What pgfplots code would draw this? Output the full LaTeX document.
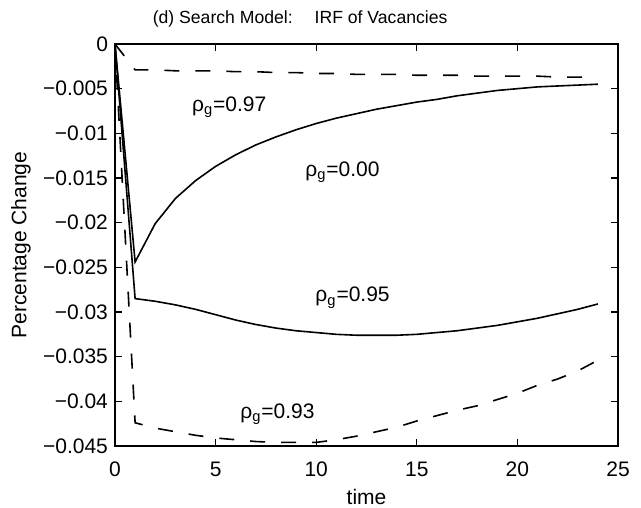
\documentclass[border=0pt]{standalone}
\usepackage{fontspec}
\setmainfont{Liberation Sans}
\usepackage{pgfplots}
\pgfplotsset{compat=1.18}
\begin{document}
\begin{tikzpicture}
\begin{axis}[
    name=ax,
    scale only axis,
    width=251.5pt, height=201pt,
    xmin=0, xmax=25, ymin=-0.045, ymax=0,
    xtick={0,5,10,15,20,25},
    xticklabels={0,5,10,15,20,25},
    ytick={-0.045,-0.04,-0.035,-0.03,-0.025,-0.02,-0.015,-0.01,-0.005,0},
    yticklabels={−0.045,−0.04,−0.035,−0.03,−0.025,−0.02,−0.015,−0.01,−0.005,0},
    scaled y ticks=false,
    tick align=inside,
    major tick length=3.5pt,
    tick style={black, line width=0.6pt},
    axis line style={line width=0.8pt},
    font=\fontsize{10.5}{12}\selectfont,
    xticklabel style={yshift=-4.5pt},
    clip=false,
]
% rho_g = 0.00
\addplot[black, line width=0.8pt, dash pattern=on 7.5pt off 8pt] coordinates {
 (0,0) (1,-0.0029) (2,-0.0029) (3,-0.0030) (4,-0.0030) (5,-0.0030) (6,-0.0031)
 (7,-0.0031) (8,-0.0032) (9,-0.0032) (10,-0.0033) (11,-0.0033) (12,-0.0034)
 (13,-0.0034) (14,-0.0034) (15,-0.0035) (16,-0.0035) (17,-0.0035) (18,-0.0036)
 (19,-0.0036) (20,-0.0036) (21,-0.0036) (22,-0.0037) (23,-0.0037) (24,-0.0037)
};
% rho_g = 0.97
\addplot[black, line width=0.8pt] coordinates {
 (0,0) (1,-0.0244) (2,-0.0201) (3,-0.0173) (4,-0.0153) (5,-0.0137) (6,-0.0124)
 (7,-0.0113) (8,-0.0104) (9,-0.0096) (10,-0.0089) (11,-0.0083) (12,-0.0078)
 (13,-0.0073) (14,-0.0069) (15,-0.0065) (16,-0.0062) (17,-0.0058) (18,-0.0055)
 (19,-0.0052) (20,-0.0050) (21,-0.0048) (22,-0.0047) (23,-0.0046) (24,-0.0045)
};
% rho_g = 0.95
\addplot[black, line width=0.8pt] coordinates {
 (0,0) (1,-0.0285) (2,-0.0288) (3,-0.0292) (4,-0.0297) (5,-0.0303) (6,-0.0309)
 (7,-0.0314) (8,-0.0318) (9,-0.0321) (10,-0.0323) (11,-0.0325) (12,-0.0326)
 (13,-0.0326) (14,-0.0326) (15,-0.0325) (16,-0.0323) (17,-0.0321) (18,-0.0318)
 (19,-0.0315) (20,-0.0311) (21,-0.0307) (22,-0.0302) (23,-0.0297) (24,-0.0291)
};
% rho_g = 0.93
\addplot[black, line width=0.8pt, dash pattern=on 7.5pt off 8pt] coordinates {
 (0,0) (1,-0.0424) (2,-0.0430) (3,-0.0434) (4,-0.0438) (5,-0.0441) (6,-0.0443)
 (7,-0.0445) (8,-0.0446) (9,-0.0446) (10,-0.0446) (11,-0.0443) (12,-0.0439)
 (13,-0.0434) (14,-0.0429) (15,-0.0422) (16,-0.0416) (17,-0.0410) (18,-0.0405)
 (19,-0.0398) (20,-0.0391) (21,-0.0382) (22,-0.0375) (23,-0.0366) (24,-0.0354)
};
% curve labels
\node[anchor=base west, inner sep=0pt] at (axis cs:3.81,-0.00757) {ρ\textsubscript{g}=0.97};
\node[anchor=base west, inner sep=0pt] at (axis cs:9.44,-0.01484) {ρ\textsubscript{g}=0.00};
\node[anchor=base west, inner sep=0pt] at (axis cs:9.94,-0.02886) {ρ\textsubscript{g}=0.95};
\node[anchor=base west, inner sep=0pt] at (axis cs:6.21,-0.04187) {ρ\textsubscript{g}=0.93};
% title and axis labels
\node[anchor=base, inner sep=0pt, font=\fontsize{8.8}{10}\selectfont] at ([yshift=10.5pt]rel axis cs:0.368,1) {(d) Search Model:\hspace{11pt}IRF of Vacancies};
\node[anchor=base, inner sep=0pt] at (rel axis cs:0.5,-0.1453) {time};
\node[anchor=base, inner sep=0pt, rotate=90] at (rel axis cs:-0.176,0.5) {Percentage Change};
\end{axis}
\pgfresetboundingbox
\path[use as bounding box] ([xshift=-57.5pt,yshift=-30.75pt]ax.south west) rectangle ([xshift=11.5pt,yshift=22pt]ax.north east);
\end{tikzpicture}
\end{document}
